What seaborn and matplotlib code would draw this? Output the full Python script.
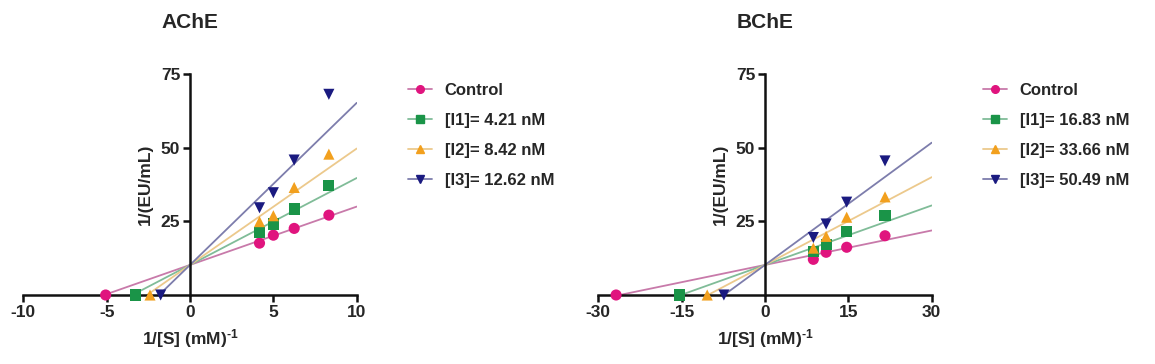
import numpy as np
import pandas as pd
import seaborn as sns
import matplotlib
matplotlib.use("Agg")
import matplotlib.pyplot as plt
from matplotlib.lines import Line2D

# ---------------- data ----------------
series = ["Control", "I1", "I2", "I3"]

ache_labels = ["Control", "[I1]= 4.21 nM", "[I2]= 8.42 nM", "[I3]= 12.62 nM"]
ache_x = [4.17, 5.0, 6.25, 8.33]
ache_control = [17.6, 20.3, 22.6, 27.1]
ache_i1 = [21.3, 24.1, 29.2, 37.1]
ache_i2 = [24.9, 26.9, 36.5, 47.8]
ache_i3 = [29.6, 34.7, 45.8, 68.1]
ache_xint = [-5.06, -3.26, -2.40, -1.76]
ache_fit_slope = [1.98, 2.95, 3.95, 5.50]
ache_fit_intercept = [10.2, 10.2, 10.2, 10.2]

bche_labels = ["Control", "[I1]= 16.83 nM", "[I2]= 33.66 nM", "[I3]= 50.49 nM"]
bche_x = [8.7, 11.0, 14.7, 21.6]
bche_control = [12.1, 14.5, 16.2, 20.1]
bche_i1 = [14.8, 17.0, 21.4, 26.9]
bche_i2 = [15.9, 19.9, 26.4, 33.3]
bche_i3 = [19.5, 24.1, 31.5, 45.5]
bche_xint = [-26.8, -15.4, -10.4, -7.4]
bche_fit_slope = [0.39, 0.673, 0.993, 1.383]
bche_fit_intercept = [10.2, 10.2, 10.2, 10.2]

ache_xticks = [-10, -5, 0, 5, 10]
bche_xticks = [-30, -15, 0, 15, 30]
yticks = [25, 50, 75]

# ---------------- style ----------------
sns.set_theme(style="ticks")
plt.rcParams["font.family"] = ["Liberation Sans", "DejaVu Sans"]
plt.rcParams["font.weight"] = "bold"
plt.rcParams["mathtext.fontset"] = "custom"
plt.rcParams["mathtext.rm"] = "Liberation Sans:bold"
plt.rcParams["mathtext.bf"] = "Liberation Sans:bold"
plt.rcParams["mathtext.default"] = "bf"

marker_colors = ["#e0147e", "#1a9448", "#f2a01e", "#1a1a80"]
line_colors = ["#c87aaa", "#80bc98", "#ecc98c", "#7d7dac"]
markers = ["o", "s", "^", "v"]

FS_TICK = 12.5
FS_LAB = 12.5
FS_TITLE = 15
FS_LEG = 12


def build_frames(labels, xs, ys, xint, slopes, intercepts, xmax):
    pts = []
    fits = []
    for i, lab in enumerate(labels):
        for x, y in zip(xs, ys[i]):
            pts.append({"x": x, "y": y, "series": lab})
        pts.append({"x": xint[i], "y": 0.0, "series": lab})
        x0 = -intercepts[i] / slopes[i]
        for xv in (x0, xmax):
            fits.append({"x": xv, "y": intercepts[i] + slopes[i] * xv, "series": lab})
    return pd.DataFrame(pts), pd.DataFrame(fits)


def draw(ax, title, labels, xs, ys, xint, slopes, intercepts, xticks):
    xmin, xmax = xticks[0], xticks[-1]
    pts, fits = build_frames(labels, xs, ys, xint, slopes, intercepts, xmax)
    pal_line = dict(zip(labels, line_colors))
    sns.lineplot(data=fits, x="x", y="y", hue="series", palette=pal_line,
                 estimator=None, sort=True, lw=1.3, legend=False, ax=ax)
    for i, lab in enumerate(labels):
        sub = pts[pts["series"] == lab]
        sns.scatterplot(data=sub, x="x", y="y", color=marker_colors[i],
                        marker=markers[i], s=64, edgecolor="none",
                        legend=False, ax=ax, clip_on=False, zorder=5)
    ax.set_xlim(xmin, xmax)
    ax.set_ylim(0, 75)
    ax.set_xticks(xticks)
    ax.set_xticklabels([str(t) for t in xticks])
    ax.set_yticks(yticks)
    ax.set_yticklabels([str(t) for t in yticks])
    for s in ["top", "right"]:
        ax.spines[s].set_visible(False)
    ax.spines["left"].set_position(("data", 0))
    ax.spines["bottom"].set_position(("data", 0))
    for s in ["left", "bottom"]:
        ax.spines[s].set_linewidth(1.8)
        ax.spines[s].set_color("#111111")
        ax.spines[s].set_zorder(3)
    ax.tick_params(axis="both", direction="out", length=5, width=1.8,
                   color="#111111", labelsize=FS_TICK, pad=2)
    for lab in ax.get_xticklabels() + ax.get_yticklabels():
        lab.set_fontweight("bold")
    ax.set_xlabel(r"1/[S] (mM)$^{\text{-}1}$", fontsize=FS_LAB, fontweight="bold")
    ax.xaxis.set_label_coords(0.5, -0.145)
    ax.set_ylabel("1/(EU/mL)", fontsize=FS_LAB, fontweight="bold")
    ax.yaxis.set_label_coords(0.39, 0.5)
    ax.set_title(title, fontsize=FS_TITLE, fontweight="bold", pad=33)

    handles = [Line2D([0], [0], color=line_colors[i], lw=1.3, marker=markers[i],
                      markersize=5.5, markerfacecolor=marker_colors[i],
                      markeredgecolor=marker_colors[i])
               for i in range(len(labels))]
    leg = ax.legend(handles, labels, loc="upper left", bbox_to_anchor=(1.134, 0.99),
                    frameon=False, fontsize=FS_LEG, handlelength=1.45,
                    handletextpad=0.75, labelspacing=0.9, borderaxespad=0)
    for t in leg.get_texts():
        t.set_fontweight("bold")


fig = plt.figure(figsize=(11.55, 3.64), dpi=100)
ax1 = fig.add_axes([23.3 / 1155, (364 - 295) / 364, 333.4 / 1155, 221 / 364])
ax2 = fig.add_axes([598.3 / 1155, (364 - 295) / 364, 333.4 / 1155, 221 / 364])

draw(ax1, "AChE", ache_labels, ache_x,
     [ache_control, ache_i1, ache_i2, ache_i3], ache_xint,
     ache_fit_slope, ache_fit_intercept, ache_xticks)
draw(ax2, "BChE", bche_labels, bche_x,
     [bche_control, bche_i1, bche_i2, bche_i3], bche_xint,
     bche_fit_slope, bche_fit_intercept, bche_xticks)

fig.savefig("out.png", dpi=100, facecolor="white")
